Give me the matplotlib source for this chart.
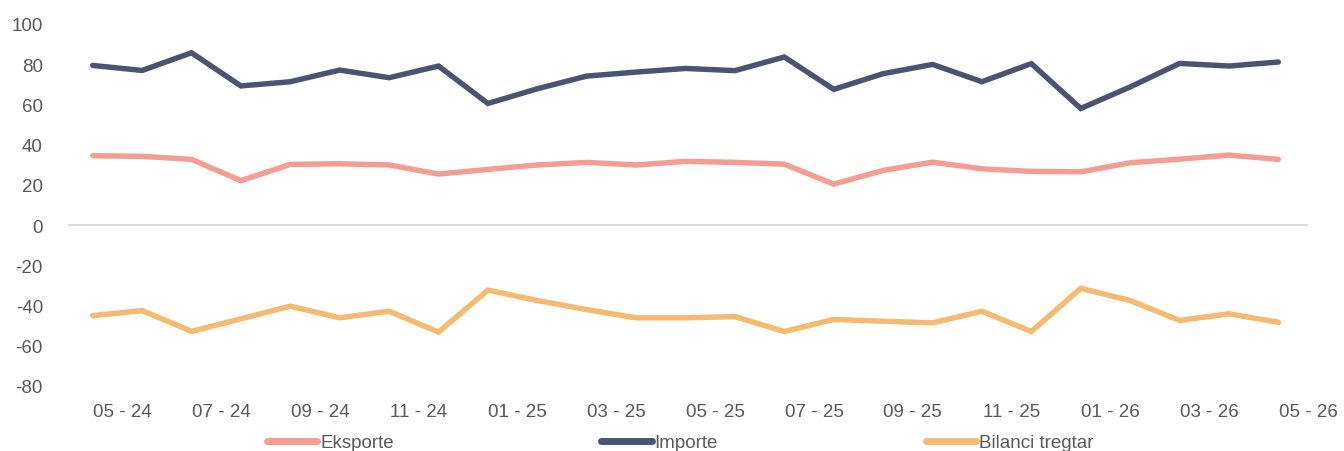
import matplotlib
matplotlib.use("Agg")
import matplotlib.pyplot as plt
import numpy as np

months = ["05 - 24", "06 - 24", "07 - 24", "08 - 24", "09 - 24", "10 - 24", "11 - 24", "12 - 24",
          "01 - 25", "02 - 25", "03 - 25", "04 - 25", "05 - 25", "06 - 25", "07 - 25", "08 - 25",
          "09 - 25", "10 - 25", "11 - 25", "12 - 25", "01 - 26", "02 - 26", "03 - 26", "04 - 26",
          "05 - 26"]

eksporte = [34.5, 34.2, 32.7, 22.1, 30.2, 30.5, 29.9, 25.4, 27.7, 29.9, 31.2, 29.9, 31.7,
            31.2, 30.3, 20.4, 27.2, 31.3, 28.0, 26.7, 26.5, 31.0, 32.8, 34.8, 32.7]
importe = [79.4, 76.9, 85.7, 69.2, 71.3, 77.1, 73.3, 79.1, 60.5, 67.8, 74.1, 76.1, 77.9,
           76.8, 83.6, 67.5, 75.3, 79.9, 71.3, 80.3, 58.0, 68.7, 80.4, 79.1, 81.1]
bilanci = [-45.0, -42.5, -52.8, -46.6, -40.3, -46.1, -42.8, -53.2, -32.3, -37.5, -42.0, -46.1, -46.1,
           -45.5, -52.9, -46.9, -47.8, -48.6, -42.8, -52.9, -31.4, -37.5, -47.4, -44.1, -48.3]

series_names = ["Eksporte", "Importe", "Bilanci tregtar"]
colors = ["#F59D91", "#4A5370", "#F5BA70"]

plt.rcParams['font.family'] = ['Liberation Sans', 'DejaVu Sans']

fig = plt.figure(figsize=(13.44, 4.52), dpi=100)
ax = fig.add_axes([68/1344, 1-387/452, (1308-68)/1344, (387-25)/452])

x = np.arange(len(months))
for vals, name, c in zip([eksporte, importe, bilanci], series_names, colors):
    ax.plot(x, vals, color=c, lw=3.9, label=name, solid_capstyle='round', solid_joinstyle='miter')

ax.axhline(0, color="#D9D9D9", lw=1.3, zorder=0)
ax.set_xlim(-0.5, len(months) - 0.5)
ax.set_ylim(-80, 100)
ax.set_yticks(np.arange(-80, 101, 20))
ax.set_yticklabels([str(v) for v in range(-80, 101, 20)])

tick_idx = list(range(0, len(months), 2))
ax.set_xticks([i + 0.6 for i in tick_idx])
ax.set_xticklabels([months[i] for i in tick_idx])

for s in ax.spines.values():
    s.set_visible(False)
ax.tick_params(axis='both', length=0, labelsize=13.5, colors="#595959")
ax.tick_params(axis='y', pad=18)
ax.tick_params(axis='x', pad=12)

leg = fig.legend(loc='center', bbox_to_anchor=(0.506, 0.018), ncol=3, frameon=False,
                 fontsize=13.5, handlelength=2.7, handletextpad=0.15, columnspacing=11.07)
for t in leg.get_texts():
    t.set_color("#595959")
for h in leg.get_lines():
    h.set_linewidth(5)
    h.set_solid_capstyle('round')

fig.savefig("out.png", dpi=100)
